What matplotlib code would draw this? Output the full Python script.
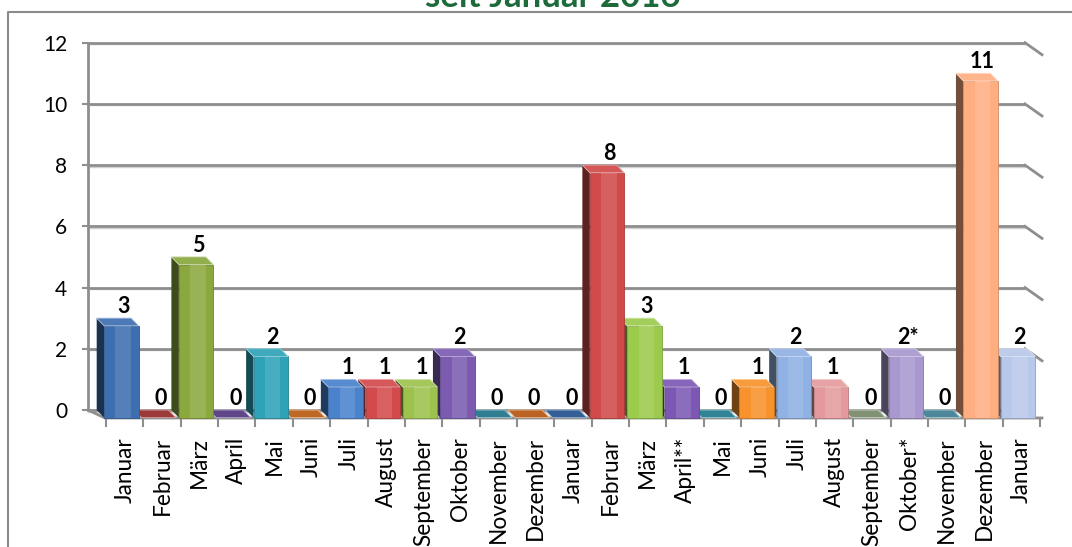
import numpy as np
import matplotlib.pyplot as plt
from matplotlib.patches import Polygon
from matplotlib.lines import Line2D
import matplotlib.colors as mcolors

plt.rcParams['font.family'] = ['Lato', 'DejaVu Sans']

# --- Daten
monate = ["Januar", "Februar", "März", "April", "Mai", "Juni", "Juli", "August",
          "September", "Oktober", "November", "Dezember", "Januar", "Februar",
          "März", "April**", "Mai", "Juni", "Juli", "August", "September",
          "Oktober*", "November", "Dezember", "Januar"]
anzahl = [3, 0, 5, 0, 2, 0, 1, 1, 1, 2, 0, 0, 0, 8, 3, 1, 0, 1, 2, 1, 0, 2, 0, 11, 2]
beschriftung = ["3", "0", "5", "0", "2", "0", "1", "1", "1", "2", "0", "0", "0",
                "8", "3", "1", "0", "1", "2", "1", "0", "2*", "0", "11", "2"]
farben = ["#3d6eb0", "#b84444", "#8aa83e", "#6e52a0", "#2ea3b8", "#e07a2c",
          "#4a82cc", "#d44a4c", "#9cc14c", "#7a5bb0", "#3a94ac", "#dc742c",
          "#3d6eb0", "#d04a4a", "#9cca4c", "#7c58b4", "#3a9bb0", "#f7922c",
          "#8fb1e3", "#e49a9c", "#97ab88", "#a898cf", "#5a9fb5", "#ffae82",
          "#b8c8ea"]
yticks = [0, 2, 4, 6, 8, 10, 12]

# --- Geometrie (Pixel -> Dateneinheiten)
W, H = 1072, 547
px_x = 37.36      # Pixel pro Kategorie
px_y = 30.58      # Pixel pro Einheit
x0_px = 124.7     # Mitte der ersten Kategorie (vorne)
wand_dx, wand_dy = 17 / px_x, 12 / px_y    # Tiefe der Seitenwand
boden_dy = 8 / px_y                        # Tiefe des Bodens
bar_w = 0.92
bar_shift = -0.09
tief_dx, tief_dy = 0.2, 0.25               # Tiefe der Säulen
grau = "#8e8e8e"

fig = plt.figure(figsize=(W / 100, H / 100), dpi=100)
left_px, right_px, top_px, bot_px = 88, 1025, 42.7, 410
ax = fig.add_axes([left_px / W, (H - bot_px) / H, (right_px - left_px) / W, (bot_px - top_px) / H])
ax.set_xlim((left_px - x0_px) / px_x, (right_px - x0_px) / px_x)
ax.set_ylim(0, 12)
for s in ax.spines.values():
    s.set_visible(False)

# Gitterlinien an der Rückwand + Diagonale an der rechten Wand
xl, xr = ax.get_xlim()
for v in yticks:
    ax.plot([xl, xr], [v, v], color=grau, lw=2.0, clip_on=False, zorder=1,
            solid_capstyle="butt")
    ax.plot([xl, xr], [v - 0.05, v - 0.05], color="#d0d0d0", lw=1.0, clip_on=False, zorder=0.9)
    if v > 0:
        ax.plot([xr, xr + wand_dx], [v, v - wand_dy], color=grau, lw=2.0, clip_on=False, zorder=1)
ax.plot([xl, xl], [0, 12], color=grau, lw=2.0, clip_on=False, zorder=1)

# Boden
boden = Polygon([(xl, 0), (xr, 0), (xr + wand_dx, -boden_dy), (xl + wand_dx, -boden_dy)],
                closed=True, facecolor="#f4f4f4", edgecolor="none", clip_on=False, zorder=0.5)
ax.add_patch(boden)
ax.plot([xl, xl + wand_dx, xr + wand_dx], [0, -boden_dy, -boden_dy], color=grau, lw=2.0,
        clip_on=False, zorder=1)
for k in range(len(monate) + 1):
    xt = k - 0.5
    ax.plot([xt, xt], [-boden_dy, -boden_dy - 8 / px_y], color=grau, lw=1.5, clip_on=False, zorder=1)


def dunkler(c, f):
    r, g, b = mcolors.to_rgb(c)
    return (r * f, g * f, b * f)


def heller(c, f):
    r, g, b = mcolors.to_rgb(c)
    return (r + (1 - r) * f, g + (1 - g) * f, b + (1 - b) * f)


# Säulen von rechts nach links zeichnen (linke verdecken rechte)
n = len(anzahl)
for i in range(n - 1, -1, -1):
    v = anzahl[i]
    c = farben[i]
    z = 10 + (n - i) * 0.1
    xa = i + bar_shift - bar_w / 2
    xb = i + bar_shift + bar_w / 2
    yf = -tief_dy
    # linke Seite
    ax.add_patch(Polygon([(xa, yf), (xa, v + yf), (xa - tief_dx, v), (xa - tief_dx, 0)],
                         closed=True, facecolor=dunkler(c, 0.45), edgecolor="none",
                         clip_on=False, zorder=z))
    # Vorderseite
    if v > 0:
        ax.bar(i + bar_shift, v, width=bar_w, bottom=yf, color=c, edgecolor=dunkler(c, 0.8),
               linewidth=0.6, clip_on=False, zorder=z + 0.01)
        # leichter Glanz in der Mitte
        ax.bar(i + bar_shift + 0.05, v, width=bar_w * 0.45, bottom=yf, color=heller(c, 0.12),
               linewidth=0, clip_on=False, zorder=z + 0.02)
    # Deckfläche
    ax.add_patch(Polygon([(xa, v + yf), (xb, v + yf), (xb - tief_dx, v), (xa - tief_dx, v)],
                         closed=True, facecolor=dunkler(c, 0.85) if v == 0 else heller(c, 0.08),
                         edgecolor=heller(c, 0.5), linewidth=0.6, clip_on=False, zorder=z + 0.03))

# Datenbeschriftungen
for i, (v, t) in enumerate(zip(anzahl, beschriftung)):
    ax.text(i - 0.04, v + 0.38, t, ha="center", va="center", fontsize=15.5,
            fontweight="bold", color="black", zorder=50, clip_on=False)

# Achsen
ax.set_yticks(yticks)
ax.set_yticklabels([str(t) for t in yticks])
ax.tick_params(axis="y", length=4, width=1.5, color=grau, pad=11, labelsize=15)
ax.set_xticks(range(n))
ax.set_xticklabels(monate, rotation=90, fontsize=16.3)
ax.tick_params(axis="x", length=0, pad=19.5)
for lab in ax.get_xticklabels():
    lab.set_va("top")

# Rahmen
fig.add_artist(Line2D([8 / W, 8 / W, 1.0], [0.0, 1 - 12 / H, 1 - 12 / H],
                      color="#8a8a8a", lw=1.5))

# Titel (oben angeschnitten wie im Original)
fig.text(553 / W, 1 - 7 / H, "seit Januar 2016", ha="center", va="baseline",
         fontsize=25, fontweight="bold", color="#1d6a3a")

fig.savefig("out.png", dpi=100)
